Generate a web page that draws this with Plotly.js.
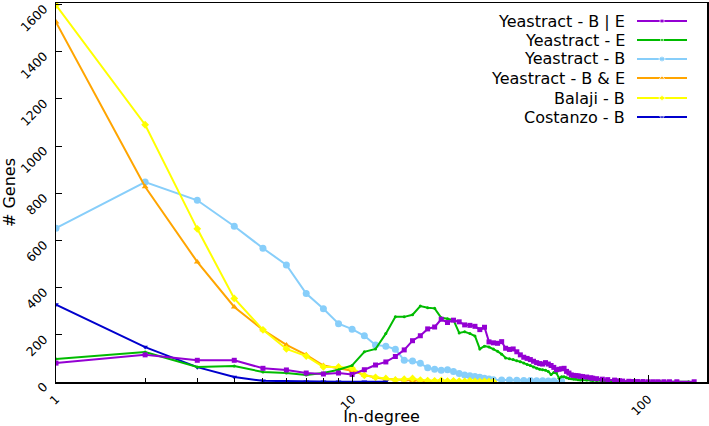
<!DOCTYPE html>
<html>
<head>
<meta charset="utf-8">
<script src="https://cdn.plot.ly/plotly-3.0.1.min.js"></script>
<style>html,body{margin:0;padding:0;background:#fff;}#chart{width:709px;height:426px;}</style>
</head>
<body>
<div id="chart"></div>
<script>
// ---- data (in-degree -> number of genes) ----
const seriesNames = ["Yeastract - B | E", "Yeastract - E", "Yeastract - B", "Yeastract - B & E", "Balaji - B", "Costanzo - B"];

const bOrE_x = [1,2,3,4,5,6,7,8,9,10,11,12,13,14,15,16,17,18,19,20,21,22,23,24,25,26,27,28,29,30,31,32,33,34,35,36,37,38,39,40,41,42,43,44,45,46,47,48,49,50,51,52,53,54,55,56,57,58,59,60,62,64,65,67,70,73,77,80,82,86,89,92,96,100,104,108,113,118,125,143];
const bOrE_y = [80,115,92,92,58,51,38,34,38,32,52,72,85,108,136,175,196,225,233,266,252,262,255,242,240,236,222,232,170,166,164,171,143,138,140,128,115,105,100,95,88,82,78,76,82,76,70,62,52,54,56,58,45,38,30,28,27,26,24,23,21,18,16,14,12,10,8,5,4,3,2,2,2,1,1,1,1,1,1,1];

const E_x = [1,2,3,4,5,6,7,8,9,10,11,12,13,14,15,16,17,18,19,20,21,22,23,24,25,26,27,28,29,30,31,32,33,34,35,36,37,38,39,40,41,42,43,44,45,46,47,48,49,50,51,52,53,54,55,56,57,58,59,60,62,64,65,67,70,72,75,78,80,85,90,95,100,110,124,137];
const E_y = [97,127,64,68,42,38,30,38,52,70,128,140,205,276,276,285,322,315,312,272,268,262,208,213,205,195,140,152,148,140,130,118,102,98,95,90,86,80,74,70,64,58,54,52,50,44,32,40,38,16,22,22,18,15,14,12,12,10,9,8,8,7,6,6,5,4,3,3,2,2,1,1,1,1,1,1];

const B_x = [1,2,3,4,5,6,7,8,9,10,11,12,13,14,15,16,17,18,19,20,21,22,23,24,25,26,27,28,29,30,32,34,36,38,40,42,44,46,48,51];
const B_y = [652,847,770,660,567,496,375,310,247,224,196,157,152,139,92,89,79,60,54,50,52,44,36,30,26,23,20,16,13,10,9,8,7,6,6,5,5,4,4,4];

const BandE_x = [1,2,3,4,5,6,7,8,9,10,11,12,13,14,15,16,17,18,19,20,22];
const BandE_y = [1525,827,509,318,221,157,115,70,58,48,30,19,13,10,8,6,5,3,2,2,1];

const balaji_x = [1,2,3,4,5,6,7,8,9,10,11,12,13,14,15,16,17,18,19,20,21,22,23,24,25,26,27,28,29,30];
const balaji_y = [1597,1090,649,354,221,140,110,64,64,58,28,20,15,9,12,15,8,6,5,7,4,5,4,3,5,3,2,3,2,2];

const costanzo_x = [1,2,3,4,5,6,7,8,9,11,13];
const costanzo_y = [328,148,63,21,5,3,1,1,1,1,1];

const majorTicks = [1, 10, 100];
const minorTicks = [2,3,4,5,6,7,8,9,20,30,40,50,60,70,80,90];
const yTicks = [0,200,400,600,800,1000,1200,1400,1600];

// ---- styles ----
const colors = ["#9400D3", "#00BB00", "#87CEFA", "#FFA500", "#FFFF00", "#0000CD"];
const symbols = ["square", "circle", "circle", "triangle-up", "diamond", "triangle-down"];
const msizes = [5, 3, 7, 6, 6, 5];

const xs = [bOrE_x, E_x, B_x, BandE_x, balaji_x, costanzo_x];
const ys = [bOrE_y, E_y, B_y, BandE_y, balaji_y, costanzo_y];

const W = 709, H = 426, M = {l: 56, r: 2, t: 3, b: 44};
const PW = W - M.l - M.r, PH = H - M.t - M.b;
const px2x = p => (p - M.l) / PW;
const px2y = p => (H - M.b - p) / PH;

const traces = [];
const order = [2, 3, 4, 5, 1, 0];
order.forEach(i => {
  traces.push({
    x: xs[i], y: ys[i], type: 'scatter', mode: 'lines+markers', name: seriesNames[i],
    line: {color: colors[i], width: 2},
    marker: {color: colors[i], symbol: symbols[i], size: msizes[i]},
    showlegend: false, hoverinfo: 'skip'
  });
});

// custom legend (text right-aligned, key to the right of the text)
const annotations = [];
const legRows = [21, 40, 59, 78, 98, 117];
seriesNames.forEach((nm, i) => {
  const yy = px2y(legRows[i]);
  annotations.push({
    text: nm, xref: 'paper', yref: 'paper', x: px2x(627), y: yy,
    xanchor: 'right', yanchor: 'middle', showarrow: false,
    font: {family: 'DejaVu Sans', size: 16, color: '#000'}
  });
  traces.push({
    x: [px2x(637), px2x(662), px2x(687)], y: [yy, yy, yy],
    xaxis: 'x2', yaxis: 'y2', type: 'scatter', mode: 'lines+markers',
    line: {color: colors[i], width: 2},
    marker: {color: colors[i], symbol: symbols[i], size: [0, Math.max(msizes[i]-1, 3), 0]},
    showlegend: false, hoverinfo: 'skip'
  });
});

const layout = {
  width: W, height: H, margin: M,
  paper_bgcolor: '#fff', plot_bgcolor: '#fff',
  font: {family: 'DejaVu Sans', color: '#000'},
  showlegend: false,
  xaxis: {
    type: 'log', range: [0, Math.log10(158)],
    tickmode: 'array', tickvals: majorTicks, ticktext: majorTicks.map(String),
    ticks: 'inside', ticklen: 7, tickcolor: '#000', tickwidth: 1,
    tickangle: -45, tickfont: {size: 12}, ticklabeloverflow: 'allow', ticklabelstandoff: 4,
    minor: {tickmode: 'array', tickvals: minorTicks, ticks: 'inside', ticklen: 4, tickcolor: '#000', showgrid: false},
    showgrid: false, zeroline: false,
    showline: true, mirror: true, linecolor: '#000', linewidth: 1.5,
    title: {text: 'In-degree', font: {size: 16}, standoff: 2}
  },
  yaxis: {
    range: [0, 1606],
    tickmode: 'array', tickvals: yTicks, ticktext: yTicks.map(String),
    ticks: 'inside', ticklen: 6, tickcolor: '#000',
    tickangle: -45, tickfont: {size: 12.5}, ticklabeloverflow: 'allow', ticklabelstandoff: 8, ticklabelshift: 3,
    showgrid: false, zeroline: false,
    showline: true, mirror: true, linecolor: '#000', linewidth: 1.5,
    title: {text: '# Genes', font: {size: 16}, standoff: 2}
  },
  xaxis2: {overlaying: 'x', range: [0, 1], visible: false, fixedrange: true},
  yaxis2: {overlaying: 'y', range: [0, 1], visible: false, fixedrange: true},
  annotations: annotations
};

Plotly.newPlot('chart', traces, layout, {displayModeBar: false, staticPlot: true});
</script>
</body>
</html>
